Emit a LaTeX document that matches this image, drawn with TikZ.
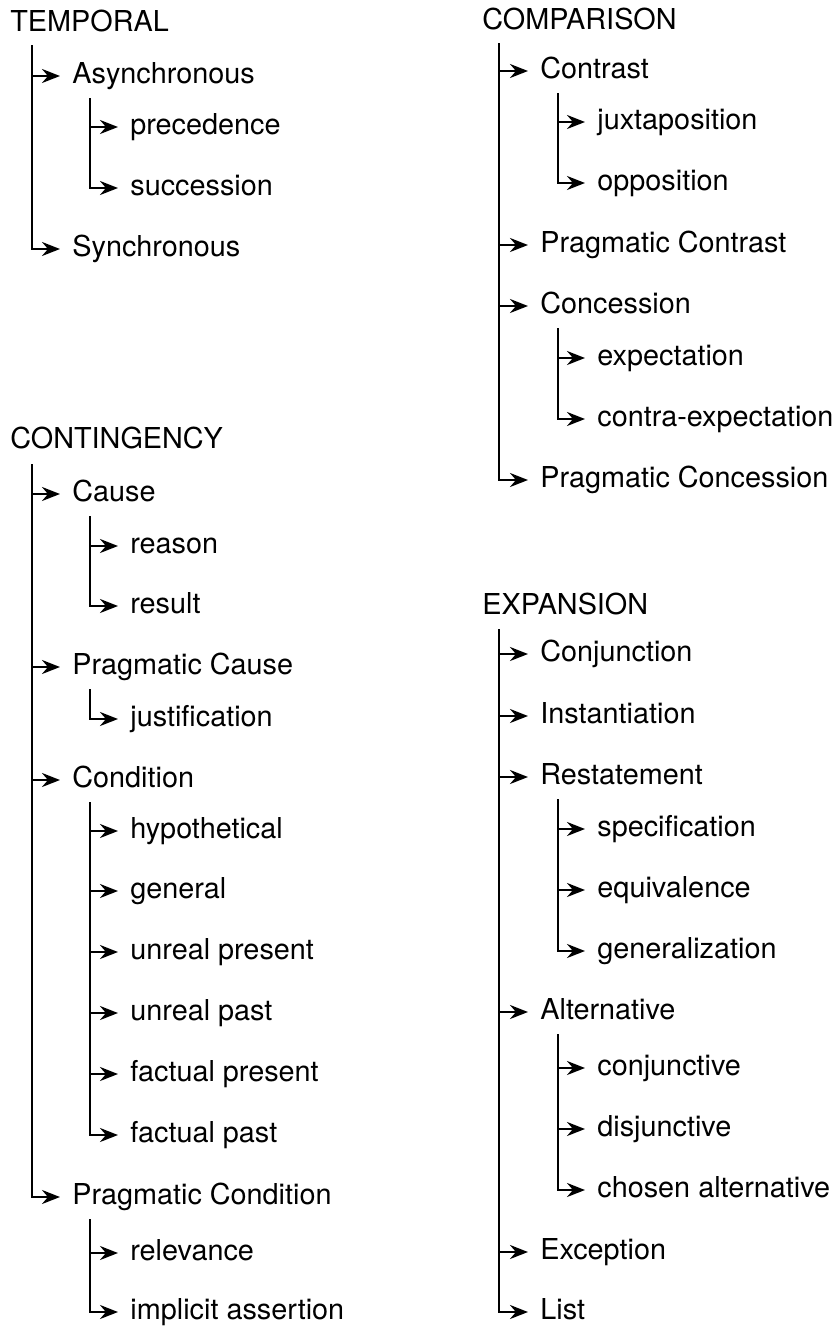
\documentclass[tikz,border=0pt]{standalone}
\usepackage{fontspec}
\setmainfont{TeX Gyre Heros}
\usetikzlibrary{arrows.meta}
\tikzstyle{head} = [anchor=west, inner xsep=6pt, inner ysep=0pt,
                    text height=10.4pt, text depth=3.2pt,
                    font=\fontsize{14.4}{17}\selectfont]
\tikzstyle{sense} = [head]
\tikzstyle{arrow} = [line width=1.3pt, -{Stealth[length=9pt,width=7pt,inset=3pt]}]

\begin{document}
\begin{tikzpicture}[x=0.5pt, y=-0.5pt]
        \useasboundingbox (0,0) rectangle (839,1329);

        %TEMPORAL
        \node (Temporal) [head] at (-2,24) {TEMPORAL};
        \node (Async) [sense] at (60,76) {Asynchronous};
        \node (Preced) [sense] at (118,127) {precedence};
        \node (Succ) [sense] at (118,188) {succession};
        \node (Sync) [sense] at (60,249) {Synchronous};
        \coordinate (tTemporal) at (32,45);
        \coordinate (tAsync) at (90,98);

        \draw [arrow] (tTemporal) |- (Async.west);
        \draw [arrow] (tTemporal) |- (Sync.west);
        \draw [arrow] (tAsync) |- (Preced.west);
        \draw [arrow] (tAsync) |- (Succ.west);

        %CONTINGENCY
        \node (Contingency) [head] at (-2,441) {CONTINGENCY};
        \node (Cause) [sense] at (60,494) {Cause};
        \node (Reason) [sense] at (118,546) {reason};
        \node (Result) [sense] at (118,606) {result};
        \node (PragCause) [sense] at (60,667) {Pragmatic Cause};
        \node (Justif) [sense] at (118,719) {justification};
        \node (Condition) [sense] at (60,780) {Condition};
        \node (Hypo) [sense] at (118,831) {hypothetical};
        \node (General) [sense] at (118,891) {general};
        \node (UnrealPres) [sense] at (118,952) {unreal present};
        \node (UnrealPast) [sense] at (118,1013) {unreal past};
        \node (FactPres) [sense] at (118,1074) {factual present};
        \node (FactPast) [sense] at (118,1135) {factual past};
        \node (PragCond) [sense] at (60,1197) {Pragmatic Condition};
        \node (Relevance) [sense] at (118,1253) {relevance};
        \node (ImplAssert) [sense] at (118,1312) {implicit assertion};
        \coordinate (tContingency) at (32,464);
        \coordinate (tCause) at (90,516);
        \coordinate (tPragCause) at (90,689);
        \coordinate (tCondition) at (90,802);
        \coordinate (tPragCond) at (90,1219);

        \draw [arrow] (tContingency) |- (Cause.west);
        \draw [arrow] (tContingency) |- (PragCause.west);
        \draw [arrow] (tContingency) |- (Condition.west);
        \draw [arrow] (tContingency) |- (PragCond.west);
        %Cause
        \draw [arrow] (tCause) |- (Reason.west);
        \draw [arrow] (tCause) |- (Result.west);
        %Pragmatic Cause
        \draw [arrow] (tPragCause) |- (Justif.west);
        %Condition
        \draw [arrow] (tCondition) |- (Hypo.west);
        \draw [arrow] (tCondition) |- (General.west);
        \draw [arrow] (tCondition) |- (UnrealPres.west);
        \draw [arrow] (tCondition) |- (UnrealPast.west);
        \draw [arrow] (tCondition) |- (FactPres.west);
        \draw [arrow] (tCondition) |- (FactPast.west);
        %Pragmatic Condition
        \draw [arrow] (tPragCond) |- (Relevance.west);
        \draw [arrow] (tPragCond) |- (ImplAssert.west);

        %COMPARISON
        \node (Comparison) [head] at (470,22) {COMPARISON};
        \node (Contrast) [sense] at (528,71) {Contrast};
        \node (Juxta) [sense] at (585,122) {juxtaposition};
        \node (Oppos) [sense] at (585,183) {opposition};
        \node (PragContrast) [sense] at (528,245) {Pragmatic Contrast};
        \node (Concession) [sense] at (528,306) {Concession};
        \node (Expect) [sense] at (585,358) {expectation};
        \node (ContraExpect) [sense] at (585,419) {contra-expectation};
        \node (PragConcession) [sense] at (528,480) {Pragmatic Concession};
        \coordinate (tComparison) at (499,43);
        \coordinate (tContrast) at (558,93);
        \coordinate (tConcession) at (558,328);

        \draw [arrow] (tComparison) |- (Contrast.west);
        \draw [arrow] (tComparison) |- (PragContrast.west);
        \draw [arrow] (tComparison) |- (Concession.west);
        \draw [arrow] (tComparison) |- (PragConcession.west);
        \draw [arrow] (tContrast) |- (Juxta.west);
        \draw [arrow] (tContrast) |- (Oppos.west);
        \draw [arrow] (tConcession) |- (Expect.west);
        \draw [arrow] (tConcession) |- (ContraExpect.west);

        %EXPANSION
        \node (Expansion) [head] at (470,607) {EXPANSION};
        \node (Conjunction) [sense] at (528,654) {Conjunction};
        \node (Instant) [sense] at (528,716) {Instantiation};
        \node (Restatement) [sense] at (528,777) {Restatement};
        \node (Specif) [sense] at (585,829) {specification};
        \node (Equiv) [sense] at (585,890) {equivalence};
        \node (Generaliz) [sense] at (585,951) {generalization};
        \node (Alternative) [sense] at (528,1012) {Alternative};
        \node (Conjunctive) [sense] at (585,1068) {conjunctive};
        \node (Disjunctive) [sense] at (585,1129) {disjunctive};
        \node (Chosen) [sense] at (585,1190) {chosen alternative};
        \node (Exception) [sense] at (528,1252) {Exception};
        \node (List) [sense] at (528,1312) {List};
        \coordinate (tExpansion) at (499,629);
        \coordinate (tRestatement) at (558,799);
        \coordinate (tAlternative) at (558,1034);

        \draw [arrow] (tExpansion) |- (Conjunction.west);
        \draw [arrow] (tExpansion) |- (Instant.west);
        \draw [arrow] (tExpansion) |- (Restatement.west);
        \draw [arrow] (tExpansion) |- (Alternative.west);
        \draw [arrow] (tExpansion) |- (Exception.west);
        \draw [arrow] (tExpansion) |- (List.west);
        %Restatement
        \draw [arrow] (tRestatement) |- (Specif.west);
        \draw [arrow] (tRestatement) |- (Equiv.west);
        \draw [arrow] (tRestatement) |- (Generaliz.west);
        %Alternative
        \draw [arrow] (tAlternative) |- (Conjunctive.west);
        \draw [arrow] (tAlternative) |- (Disjunctive.west);
        \draw [arrow] (tAlternative) |- (Chosen.west);

\end{tikzpicture}
\end{document}
